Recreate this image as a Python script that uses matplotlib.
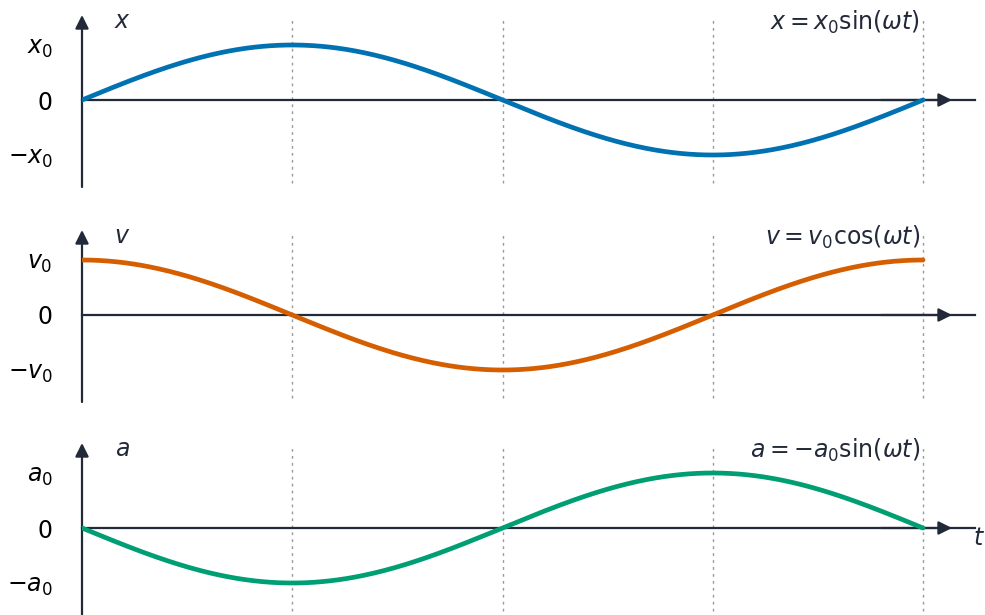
import numpy as np
import matplotlib
matplotlib.use("Agg")
import matplotlib.pyplot as plt

# one period of simple harmonic motion, t in units of T
t = np.linspace(0, 1, 500)
quarter_marks = [0.25, 0.5, 0.75, 1.0]

displacement = np.sin(2 * np.pi * t)    # x = x0 sin(wt)
velocity = np.cos(2 * np.pi * t)        # v = v0 cos(wt)
acceleration = -np.sin(2 * np.pi * t)   # a = -a0 sin(wt)

series = [displacement, velocity, acceleration]
symbols = ["$x$", "$v$", "$a$"]
formulas = [r"$x = x_0\sin(\omega t)$",
            r"$v = v_0\cos(\omega t)$",
            r"$a = -a_0\sin(\omega t)$"]
tick_labels = [[r"$-x_0$", "0", r"$x_0$"],
               [r"$-v_0$", "0", r"$v_0$"],
               [r"$-a_0$", "0", r"$a_0$"]]
colors = ["#0072B2", "#D55E00", "#009E73"]

axis_color = "#222a3a"
W, H = 985, 615
fig = plt.figure(figsize=(W / 100, H / 100), dpi=100)

# pixel layout: zero line rows, amplitude 55px, t=0..1 -> x 82..923
zero_rows = [100, 315, 528]
amp_px = 55
x0_px, x1_px, xend_px = 82, 923, 975
unit_px = x1_px - x0_px
xmax = (xend_px - x0_px) / unit_px
ylo, yhi = -87 / amp_px, 85 / amp_px

for i, y in enumerate(series):
    bottom_px = zero_rows[i] + 87
    ax = fig.add_axes([x0_px / W, (H - bottom_px) / H,
                       (xend_px - x0_px) / W, 172 / H])
    ax.set_xlim(0, xmax)
    ax.set_ylim(ylo, yhi)
    for s in ax.spines.values():
        s.set_visible(False)
    ax.set_xticks([])
    ax.set_yticks([-1, 0, 1])
    ax.set_yticklabels(tick_labels[i], fontsize=17)
    ax.tick_params(axis="y", length=0, pad=21)
    ax.patch.set_alpha(0)

    # dotted guides at quarter periods
    ax.vlines(quarter_marks, -1.5, 1.5, colors="#999999", lw=1.0,
              linestyles=(0, (2, 3)), zorder=1)

    # axes with arrows
    ax.plot([0, xmax], [0, 0], color=axis_color, lw=1.6, zorder=2, clip_on=False)
    ax.annotate("", xy=(1.0345, 0), xytext=(0.95, 0),
                arrowprops=dict(arrowstyle="-|>", color=axis_color, lw=1.6,
                                mutation_scale=20, shrinkA=0, shrinkB=0),
                annotation_clip=False, zorder=2)
    ax.annotate("", xy=(0, yhi), xytext=(0, ylo),
                arrowprops=dict(arrowstyle="-|>", color=axis_color, lw=1.6,
                                mutation_scale=20, shrinkA=0, shrinkB=0),
                annotation_clip=False, zorder=2)

    ax.plot(t, y, color=colors[i], lw=3.4, solid_capstyle="round", zorder=3)

    ax.text(40 / unit_px, 79 / amp_px, symbols[i], fontsize=17,
            color=axis_color, ha="center", va="center")
    ax.text(838 / unit_px, 78 / amp_px, formulas[i], fontsize=17,
            color=axis_color, ha="right", va="center")

    if i == 2:
        ax.text(897 / unit_px, -10 / amp_px, "$t$", fontsize=17, color=axis_color,
                ha="center", va="center", clip_on=False)

fig.savefig("out.png", dpi=100)
